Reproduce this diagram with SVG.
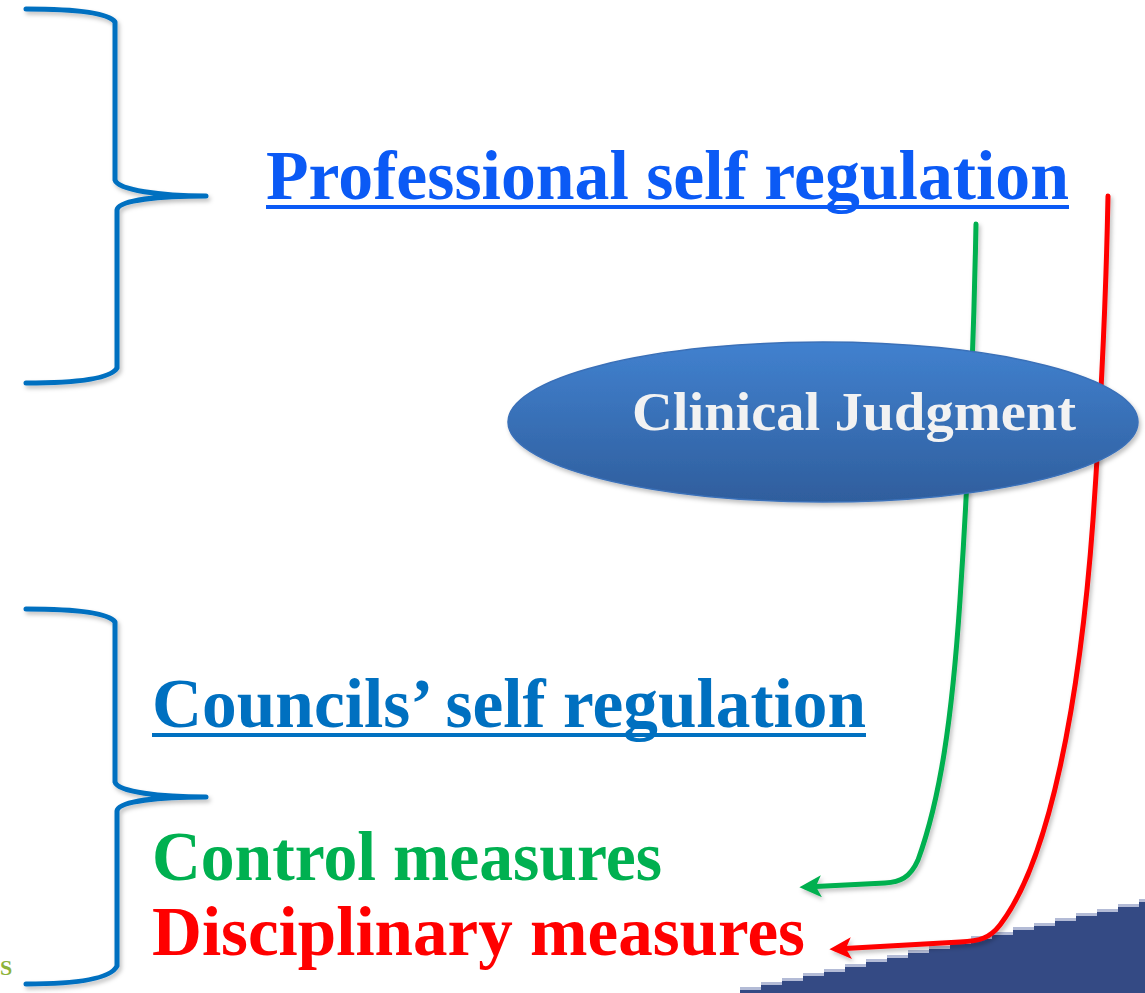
<svg xmlns="http://www.w3.org/2000/svg" width="1145" height="993" viewBox="0 0 1145 993">
  <style>
    .t { font-family: "Liberation Serif", "Times New Roman", serif; font-weight: bold; }
    .brace { fill: none; stroke: #0070c0; stroke-width: 5; stroke-linecap: round; stroke-linejoin: round; filter: url(#sh); }
    .conn { fill: none; stroke-width: 5; stroke-linecap: round; filter: url(#sh); }
  </style>
  <defs>
    <filter id="sh" x="-20%" y="-20%" width="140%" height="140%">
      <feDropShadow dx="2" dy="3" stdDeviation="2" flood-color="#000" flood-opacity="0.25"/>
    </filter>
    <linearGradient id="eg" x1="0" y1="0" x2="0" y2="1">
      <stop offset="0" stop-color="#4181cf"/>
      <stop offset="1" stop-color="#2f5e9d"/>
    </linearGradient>
    <marker id="ag" viewBox="0 0 10 10" refX="7" refY="5" markerWidth="5" markerHeight="4.4" orient="auto" markerUnits="strokeWidth">
      <path d="M10,5 L0,0 L2.5,5 L0,10 Z" fill="#00b050"/>
    </marker>
    <marker id="ar" viewBox="0 0 10 10" refX="7" refY="5" markerWidth="5" markerHeight="4.4" orient="auto" markerUnits="strokeWidth">
      <path d="M10,5 L0,0 L2.5,5 L0,10 Z" fill="#ff0000"/>
    </marker>
  </defs>

  <rect width="1145" height="993" fill="#ffffff"/>

  <!-- decorative stepped band bottom right -->
  <g id="stairs">
    <path d="M740,993 V987 H761 V982 H782 V978 H803 V973 H824 V969 H845 V964 H866 V959 H887 V955 H908 V950 H929 V946 H950 V941 H971 V936 H992 V932 H1013 V927 H1034 V923 H1055 V918 H1076 V913 H1097 V909 H1118 V904 H1139 V899 H1145 V993 Z" fill="#b3bbd6"/>
    <path d="M740,993 V990 H761 V985 H782 V981 H803 V976 H824 V972 H845 V967 H866 V962 H887 V958 H908 V953 H929 V949 H950 V944 H971 V939 H992 V935 H1013 V930 H1034 V926 H1055 V921 H1076 V916 H1097 V912 H1118 V907 H1139 V902 H1145 V993 Z" fill="#344a84"/>
  </g>

  <!-- logo fragment -->
  <text class="t" x="0" y="975" font-size="22" fill="#8db33a">S</text>

  <g id="brace-top">
    <path class="brace" d="M26,9 C70,9 108,12 115,22 L115,180 C118,190 160,196 206,196 C160,196 118,200 117,210 L117,368 C110,380 70,383 26,383"/>
  </g>
  <g id="brace-bottom">
    <path class="brace" d="M26,609 C70,609 108,612 115,622 L115,782 C118,792 160,797 206,797 C160,797 118,801 117,811 L117,966 C110,980 70,984 26,984"/>
  </g>

  <g id="connectors">
    <path class="conn" stroke="#00b050" marker-end="url(#ag)" d="M976,224 C974,330 968,480 960,600 C952,720 940,800 918,860 C910,878 900,882 885,883 L806,887"/>
    <path class="conn" stroke="#ff0000" marker-end="url(#ar)" d="M1108,196 C1106,300 1100,420 1093,520 C1080,700 1050,860 1000,925 C990,938 980,941 960,942 L836,949"/>
  </g>

  <g id="clinical-judgment">
    <ellipse cx="823" cy="422" rx="315" ry="80" fill="url(#eg)" stroke="#3a70b8" stroke-width="1.5" filter="url(#sh)"/>
    <text class="t" x="632" y="430" font-size="54" fill="#f2f2f2" textLength="444" lengthAdjust="spacingAndGlyphs">Clinical Judgment</text>
  </g>

  <g id="professional">
    <text class="t" x="266" y="199" font-size="70" fill="#0b5af5" textLength="803" lengthAdjust="spacingAndGlyphs">Professional self regulation</text>
    <rect x="266" y="205" width="803" height="4" fill="#0b5af5"/>
  </g>

  <g id="councils">
    <text class="t" x="152" y="727" font-size="70" fill="#0070c0" textLength="714" lengthAdjust="spacingAndGlyphs">Councils’ self regulation</text>
    <rect x="152" y="733" width="714" height="4" fill="#0070c0"/>
  </g>

  <g id="control">
    <text class="t" x="152" y="880" font-size="70" fill="#00b050" textLength="510" lengthAdjust="spacingAndGlyphs">Control measures</text>
  </g>
  <g id="disciplinary">
    <text class="t" x="152" y="955" font-size="70" fill="#ff0000" textLength="653" lengthAdjust="spacingAndGlyphs">Disciplinary measures</text>
  </g>
</svg>
